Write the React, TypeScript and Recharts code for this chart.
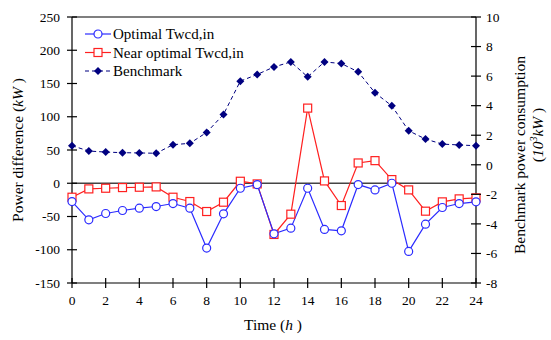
import { LineChart, Line, XAxis, YAxis, ReferenceLine } from "recharts";

// Hour of day
const hours = [0, 1, 2, 3, 4, 5, 6, 7, 8, 9, 10, 11, 12, 13, 14, 15, 16, 17, 18, 19, 20, 21, 22, 23, 24];
// Power difference, kW (left axis)
const optimal = [-27.5, -55, -45.5, -41, -37.5, -35, -30.5, -37.5, -97.5, -46, -7.5, -2, -76, -67.5, -7.5, -69.5, -71.5, -2, -10, 0, -102.5, -61.5, -36.5, -30.5, -28];
const nearOptimal = [-21, -8.5, -7.5, -6.5, -6, -5.5, -21, -27.5, -42.5, -28.5, 3, -1, -77, -46.5, 113, 3.5, -33.5, 30.5, 34, 5.5, -10, -42, -28, -23.5, -22];
// Benchmark power consumption, 10^3 kW (right axis)
const benchmark = [1.29, 0.93, 0.86, 0.82, 0.8, 0.78, 1.36, 1.45, 2.19, 3.41, 5.66, 6.11, 6.62, 6.96, 5.95, 6.96, 6.85, 6.29, 4.87, 3.99, 2.3, 1.74, 1.4, 1.34, 1.29];

const xTicks = [0, 2, 4, 6, 8, 10, 12, 14, 16, 18, 20, 22, 24];
const leftTicks = [-150, -100, -50, 0, 50, 100, 150, 200, 250];
const rightTicks = [-8, -6, -4, -2, 0, 2, 4, 6, 8, 10];

const data = hours.map((h, i) => ({ h, opt: optimal[i], near: nearOptimal[i], bench: benchmark[i] }));

const SERIF = { fontFamily: "'Liberation Serif', 'Times New Roman', Times, serif" };
const BLUE = "#2B2BFF";
const RED = "#FF2020";
const NAVY = "#000080";
const TICK_FS = 13.5;

// ticks cross the axis line (tickSize 0, tickMargin = distance from axis)
const LeftTick = (p: any) => (
  <g>
    <line x1={p.x + 7} x2={p.x + 17} y1={p.y} y2={p.y} stroke="#000" strokeWidth={1.2} />
    <text x={p.x} y={p.y} dy="0.35em" textAnchor="end" fontSize={TICK_FS} style={SERIF} fill="#000">{p.payload.value}</text>
  </g>
);
const RightTick = (p: any) => (
  <g>
    <line x1={p.x - 15} x2={p.x - 5} y1={p.y} y2={p.y} stroke="#000" strokeWidth={1.2} />
    <text x={p.x} y={p.y} dy="0.35em" textAnchor="start" fontSize={TICK_FS} style={SERIF} fill="#000">{p.payload.value}</text>
  </g>
);
const BottomTick = (p: any) => (
  <g>
    <line x1={p.x} x2={p.x} y1={p.y - 17} y2={p.y - 7} stroke="#000" strokeWidth={1.2} />
    <text x={p.x} y={p.y} dy="0.71em" textAnchor="middle" fontSize={TICK_FS} style={SERIF} fill="#000">{p.payload.value}</text>
  </g>
);

const Circle = (p: any) => <circle cx={p.cx} cy={p.cy} r={4} fill="#fff" stroke={BLUE} strokeWidth={1.2} />;
const Square = (p: any) => <rect x={p.cx - 4} y={p.cy - 4} width={8} height={8} fill="#fff" stroke={RED} strokeWidth={1.2} />;
const Diamond = (p: any) => (
  <path d={`M${p.cx},${p.cy - 4}L${p.cx + 4},${p.cy}L${p.cx},${p.cy + 4}L${p.cx - 4},${p.cy}Z`} fill={NAVY} />
);

const legendItems = [
  { name: "Optimal Twcd,in", color: BLUE, dash: undefined as string | undefined, M: Circle },
  { name: "Near optimal Twcd,in", color: RED, dash: undefined, M: Square },
  { name: "Benchmark", color: NAVY, dash: "4 3", M: Diamond },
];

function LegendBox() {
  return (
    <svg width={220} height={60} style={{ position: "absolute", left: 83, top: 25 }}>
      {legendItems.map((it, i) => {
        const y = 9 + i * 18.5;
        return (
          <g key={it.name}>
            <line x1={2} x2={28} y1={y} y2={y} stroke={it.color} strokeWidth={1.2} strokeDasharray={it.dash} />
            <it.M cx={15} cy={y} />
            <text x={30} y={y} dy="0.35em" fontSize={15} style={SERIF} fill="#000">{it.name}</text>
          </g>
        );
      })}
    </svg>
  );
}

export default function App() {
  return (
    <div style={{ position: "absolute", left: 0, top: 0, width: 551, height: 340, background: "#fff", ...SERIF }}>
      <LineChart width={551} height={340} data={data} margin={{ top: 17, right: 0, bottom: 0, left: 0 }}
                 style={SERIF}>
        <XAxis dataKey="h" type="number" domain={[0, 24]} ticks={xTicks} interval={0} height={57}
               tickSize={0} tickMargin={12} tick={<BottomTick />} stroke="#000" strokeWidth={1.2}
               label={{ value: "Time (h)", content: () => (
                 <text x={273} y={330} textAnchor="middle" fontSize={15.5} style={SERIF} fill="#000">
                   Time (<tspan fontStyle="italic">h</tspan> )
                 </text>
               ) }} />
        <YAxis yAxisId="l" domain={[-150, 250]} ticks={leftTicks} interval={0} width={72}
               tickSize={0} tickMargin={12} tick={<LeftTick />} stroke="#000" strokeWidth={1.2}
               label={{ value: "Power difference", content: () => (
                 <text x={0} y={0} transform="translate(23,150) rotate(-90)" textAnchor="middle" fontSize={15.5} style={SERIF} fill="#000">
                   Power difference (<tspan fontStyle="italic">kW</tspan> )
                 </text>
               ) }} />
        <YAxis yAxisId="r" orientation="right" domain={[-8, 10]} ticks={rightTicks} interval={0} width={75}
               tickSize={0} tickMargin={10} tick={<RightTick />} stroke="#000" strokeWidth={1.2}
               label={{ value: "Benchmark", content: () => (
                 <g>
                   <text x={0} y={0} transform="translate(525,155) rotate(-90)" textAnchor="middle" fontSize={15.5} style={SERIF} fill="#000">
                     Benchmark power consumption
                   </text>
                   <text x={0} y={0} transform="translate(543,135) rotate(-90)" textAnchor="middle" fontSize={15.5} style={SERIF} fill="#000">
                     (<tspan fontStyle="italic">10</tspan><tspan fontSize={10} dy={-6} fontStyle="italic">3</tspan><tspan dy={6} fontStyle="italic">kW</tspan> )
                   </text>
                 </g>
               ) }} />
        <ReferenceLine yAxisId="l" y={250} stroke="#000" strokeWidth={1.2} />
        <ReferenceLine yAxisId="l" y={0} stroke="#444" strokeWidth={1.5} />
        <Line yAxisId="r" dataKey="bench" name="Benchmark" stroke={NAVY} strokeWidth={1} strokeDasharray="4 3"
              dot={<Diamond />} isAnimationActive={false} />
        <Line yAxisId="l" dataKey="near" name="Near optimal Twcd,in" stroke={RED} strokeWidth={1.2}
              dot={<Square />} isAnimationActive={false} />
        <Line yAxisId="l" dataKey="opt" name="Optimal Twcd,in" stroke={BLUE} strokeWidth={1.2}
              dot={<Circle />} isAnimationActive={false} />
      </LineChart>
      <LegendBox />
    </div>
  );
}
